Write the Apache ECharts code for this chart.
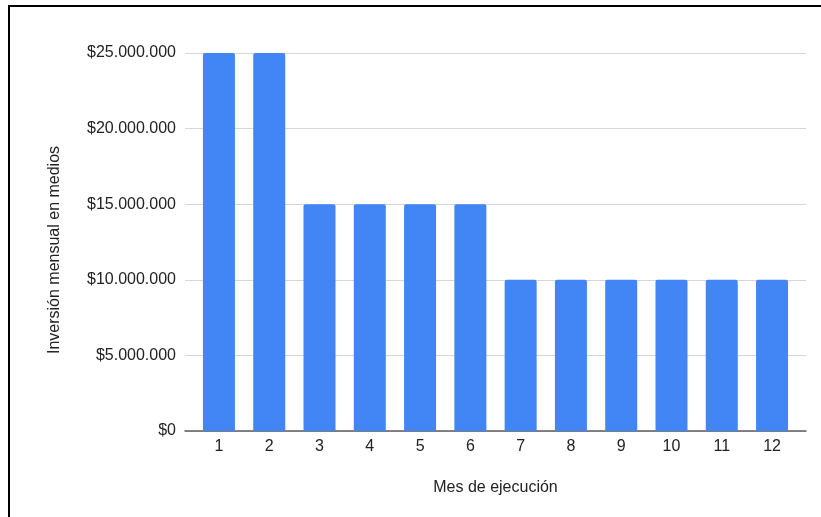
<!DOCTYPE html>
<html>
<head>
<meta charset="utf-8">
<script src="https://cdn.jsdelivr.net/npm/echarts@6/dist/echarts.min.js"></script>
<style>
  html, body { margin: 0; padding: 0; background: #fff; }
  #chart { width: 821px; height: 517px; }
</style>
</head>
<body>
<div id="chart"></div>
<script>
// datos del gráfico
var meses = [1, 2, 3, 4, 5, 6, 7, 8, 9, 10, 11, 12];
var inversion = [25000000, 25000000, 15000000, 15000000, 15000000, 15000000,
  10000000, 10000000, 10000000, 10000000, 10000000, 10000000];
var yTicks = [0, 5000000, 10000000, 15000000, 20000000, 25000000];

function formatoPeso(v) {
  return "$" + String(v).replace(/\B(?=(\d{3})+(?!\d))/g, ".");
}

var chart = echarts.init(document.getElementById("chart"));
var font = "Liberation Sans, Arial, sans-serif";

// pares [mes, valor] para el eje x numérico
var datos = meses.map(function (m, i) { return [m, inversion[i]]; });

var option = {
  animation: false,
  backgroundColor: "#fff",
  grid: { left: 185, right: 15, top: 53, bottom: 86, containLabel: false },
  graphic: [
    { type: "line", shape: { x1: 9, y1: 5, x2: 9, y2: 517 }, style: { stroke: "#000", lineWidth: 2 } },
    { type: "line", shape: { x1: 8, y1: 6, x2: 821, y2: 6 }, style: { stroke: "#000", lineWidth: 2 } }
  ],
  xAxis: {
    type: "value",
    min: 0.325,
    max: 12.675,
    name: "Mes de ejecución",
    nameLocation: "middle",
    nameGap: 49,
    nameTextStyle: { color: "#222", fontSize: 16, fontFamily: font },
    axisLine: { show: true, onZero: false, lineStyle: { color: "#5f5f5f", width: 1.5 } },
    axisTick: { show: false },
    splitLine: { show: false },
    axisLabel: { color: "#222", fontSize: 16, fontFamily: font, margin: 8, customValues: meses }
  },
  yAxis: {
    type: "value",
    min: 0,
    max: yTicks[yTicks.length - 1],
    interval: yTicks[1] - yTicks[0],
    name: "Inversión mensual en medios",
    nameLocation: "middle",
    nameGap: 122,
    nameTextStyle: { color: "#222", fontSize: 16, fontFamily: font, padding: [0, 16, 0, 0] },
    axisLine: { show: false },
    axisTick: { show: false },
    axisLabel: { color: "#222", fontSize: 16, fontFamily: font, margin: 9, formatter: formatoPeso },
    splitLine: { lineStyle: { color: "#d6d6d6", width: 1 } }
  },
  series: [{
    type: "bar",
    data: datos,
    barWidth: 32,
    itemStyle: { color: "#4285f4", borderRadius: [2, 2, 0, 0] }
  }]
};

chart.setOption(option);
</script>
</body>
</html>
